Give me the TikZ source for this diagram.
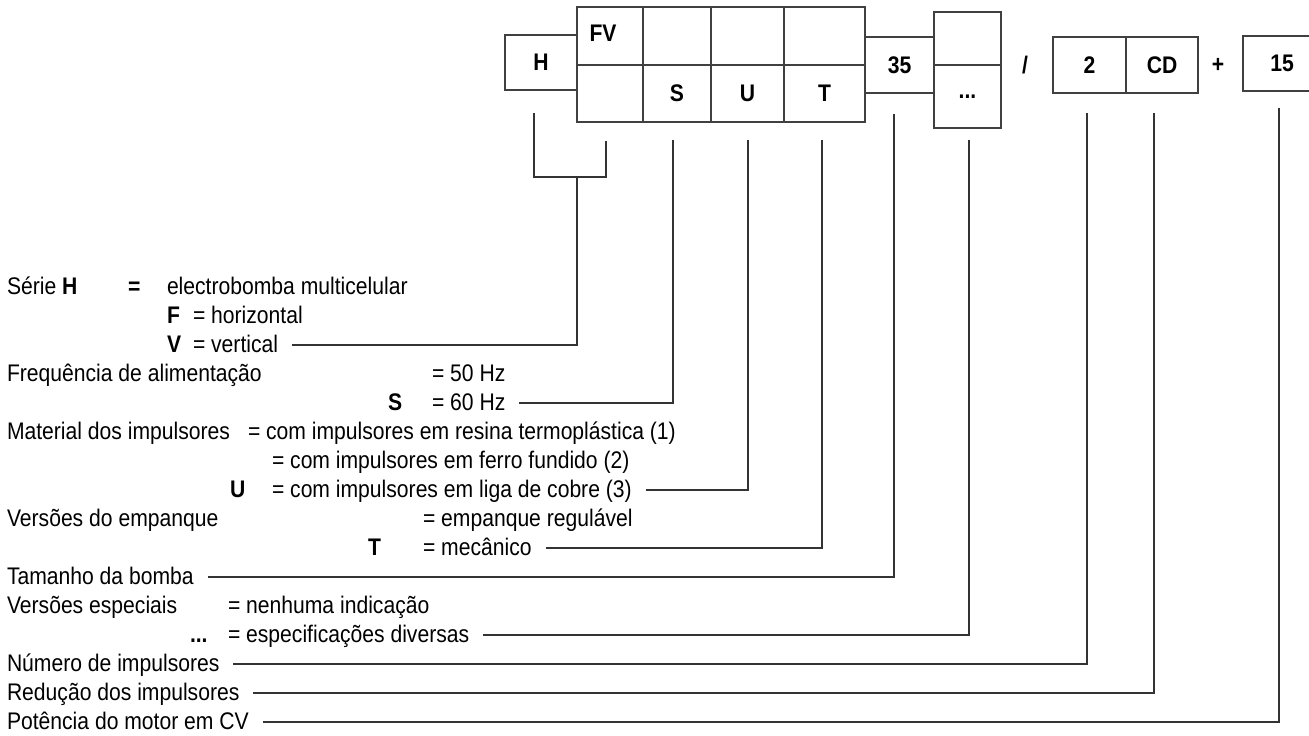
\documentclass[tikz,border=0pt]{standalone}
\usepackage{fontspec}
\setmainfont[FakeStretch=0.88]{Liberation Sans}
\usepackage{tikz}

\begin{document}
\begin{tikzpicture}[x=0.5pt,y=-0.5pt,
  every node/.style={inner sep=0pt,outer sep=0pt,font=\fontsize{12}{14}\selectfont},
  cell/.style={draw=black!75,line width=0.6pt,font=\fontsize{12}{14}\selectfont\bfseries},
  txt/.style={anchor=west,text height=7pt,text depth=0pt},
  link/.style={draw=black!80,line width=0.6pt},
  totext/.style={link,shorten >=7pt}]
\useasboundingbox (0,0) rectangle (1309,735);
\clip (0,0) rectangle (1309,735);
% code boxes
\node[cell,minimum width=36pt,minimum height=27.5pt] (h) at (541,62.5) {H};
\node[cell,minimum width=33pt,minimum height=29pt] (c1t) at (610,36) {};
\node[cell,minimum width=34pt,minimum height=29pt] (c2t) at (677,36) {};
\node[cell,minimum width=36.5pt,minimum height=29pt] (c3t) at (747.5,36) {};
\node[cell,minimum width=40.5pt,minimum height=29pt] (c4t) at (824.5,36) {};
\node[cell,minimum width=33pt,minimum height=28.5pt] (c1b) at (610,93.5) {};
\node[cell,minimum width=34pt,minimum height=28.5pt] (c2b) at (677,93.5) {S};
\node[cell,minimum width=36.5pt,minimum height=28.5pt] (c3b) at (747.5,93.5) {U};
\node[cell,minimum width=40.5pt,minimum height=28.5pt] (c4b) at (824.5,93.5) {T};
\node[font=\fontsize{12}{14}\selectfont\bfseries] (fv) at (603,33) {FV};
\node[cell,minimum width=34.5pt,minimum height=28pt] (size) at (899.5,65) {35};
\node[cell,minimum width=33.5pt,minimum height=26.5pt] (spt) at (967.5,38.5) {};
\node[cell,minimum width=33.5pt,minimum height=31.5pt] (spb) at (967.5,96.5) {...};
\node[font=\fontsize{12}{14}\selectfont\bfseries] (slash) at (1025,65) {/};
\node[cell,minimum width=36.5pt,minimum height=28pt] (two) at (1089.5,65) {2};
\node[cell,minimum width=36pt,minimum height=28pt] (cd) at (1162,65) {CD};
\node[font=\fontsize{12}{14}\selectfont\bfseries] (plus) at (1218,65) {+};
\node[cell,minimum width=39pt,minimum height=27.5pt] (pow) at (1282,63.5) {15};

% legend
\node[txt] (serie) at (7,287) {Série \textbf{H}};
\node[txt] (serieEq) at (128,287) {\textbf{=}};
\node[txt] (serieTxt) at (167,287) {electrobomba multicelular};
\node[txt] (horF) at (167,316) {\textbf{F}};
\node[txt] (hor) at (193,316) {= horizontal};
\node[txt] (vertV) at (167,345) {\textbf{V}};
\node[txt] (vert) at (193,345) {= vertical};
\node[txt] (freq) at (7,374) {Frequência de alimentação};
\node[txt] (f50) at (432,374) {= 50 Hz};
\node[txt] (fS) at (388,403) {\textbf{S}};
\node[txt] (f60) at (432,403) {= 60 Hz};
\node[txt] (mat) at (7,432) {Material dos impulsores};
\node[txt] (m1) at (248,432) {= com impulsores em resina termoplástica (1)};
\node[txt] (m2) at (272,461) {= com impulsores em ferro fundido (2)};
\node[txt] (mU) at (230,490) {\textbf{U}};
\node[txt] (m3) at (272,490) {= com impulsores em liga de cobre (3)};
\node[txt] (emp) at (7,519) {Versões do empanque};
\node[txt] (empReg) at (423,519) {= empanque regulável};
\node[txt] (empT) at (368,548) {\textbf{T}};
\node[txt] (empMec) at (423,548) {= mecânico};
\node[txt] (tam) at (7,577) {Tamanho da bomba};
\node[txt] (esp) at (7,606) {Versões especiais};
\node[txt] (espNone) at (228,606) {= nenhuma indicação};
\node[txt] (espDots) at (190,635) {\textbf{...}};
\node[txt] (espDiv) at (228,635) {= especificações diversas};
\node[txt] (num) at (7,664) {Número de impulsores};
\node[txt] (red) at (7,693) {Redução dos impulsores};
\node[txt] (pot) at (7,722) {Potência do motor em CV};

% leader lines
\coordinate (hTop) at (534,113);
\coordinate (brk) at (577,177);
\coordinate (fvTop) at (606,141);
\coordinate (sTop) at (673,140);
\coordinate (uTop) at (748,140);
\coordinate (tTop) at (822,140);
\coordinate (sizeTop) at (894,114);
\coordinate (spTop) at (969,140);
\coordinate (twoTop) at (1087,113);
\coordinate (cdTop) at (1154,113);
\coordinate (powTop) at (1279,108);
\draw[link] (hTop) |- (brk) -| (fvTop);
\draw[totext] (brk) |- (vert);
\draw[totext] (sTop) |- (f60);
\draw[totext] (uTop) |- (m3);
\draw[totext] (tTop) |- (empMec);
\draw[totext] (sizeTop) |- (tam);
\draw[totext] (spTop) |- (espDiv);
\draw[totext] (twoTop) |- (num);
\draw[totext] (cdTop) |- (red);
\draw[totext] (powTop) |- (pot);
\end{tikzpicture}
\end{document}
